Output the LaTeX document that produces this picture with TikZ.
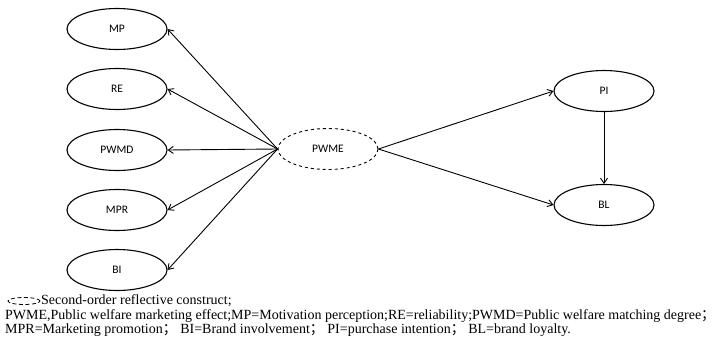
\documentclass[tikz,border=0pt]{standalone}
\usepackage{fontspec}
\setmainfont{Liberation Serif}
\newfontfamily\lblfont{Carlito}
\newfontfamily\cjk{Noto Sans CJK SC}
\usetikzlibrary{shapes.geometric,arrows.meta}
\begin{document}
\begin{tikzpicture}[x=1pt,y=-1pt,
  construct/.style={ellipse,draw,line width=1.1pt,minimum width=100pt,minimum height=41pt,inner sep=0pt,font=\lblfont\fontsize{11.5}{12}\selectfont},
  second/.style={construct,dashed,line width=0.9pt},
  link/.style={line width=0.9pt,-{Straight Barb[length=5pt,width=7pt]}},
  legend/.style={anchor=base west,inner sep=0pt,font=\fontsize{14}{15}\selectfont}]
\useasboundingbox (0,0) rectangle (717,340);
\node[construct] (mp) at (117,29) {MP};
\node[construct] (re) at (117,89) {RE};
\node[construct] (pwmd) at (117,150) {PWMD};
\node[construct] (mpr) at (117,210) {MPR};
\node[construct] (bi) at (117,270) {BI};
\node[second] (pwme) at (328,149) {PWME};
\node[construct] (pi) at (604,91) {PI};
\node[construct] (bl) at (604,205) {BL};
\foreach \t in {mp,re,pwmd,mpr,bi} \draw[link] (pwme.west) -- (\t.east);
\draw[link] (pwme.east) -- (pi.west);
\draw[link] (pwme.east) -- (bl.west);
\draw[link] (pi.south) -- (bl.north);
\node[ellipse,draw,dashed,dash pattern=on 4pt off 2.5pt,line width=0.8pt,minimum width=32pt,minimum height=7pt,inner sep=0pt] (icon) at (24,301) {};
\node[legend] (l1) at (41,304.5) {Second-order reflective construct;};
\node[legend] (l2) at (5,319) {PWME,Public welfare marketing effect;MP=Motivation perception;RE=reliability;PWMD=Public welfare matching degree{\cjk ；}};
\node[legend] (l3) at (5,333) {MPR=Marketing promotion{\cjk ；} BI=Brand involvement{\cjk ；} PI=purchase intention{\cjk ；} BL=brand loyalty.};
\end{tikzpicture}
\end{document}
